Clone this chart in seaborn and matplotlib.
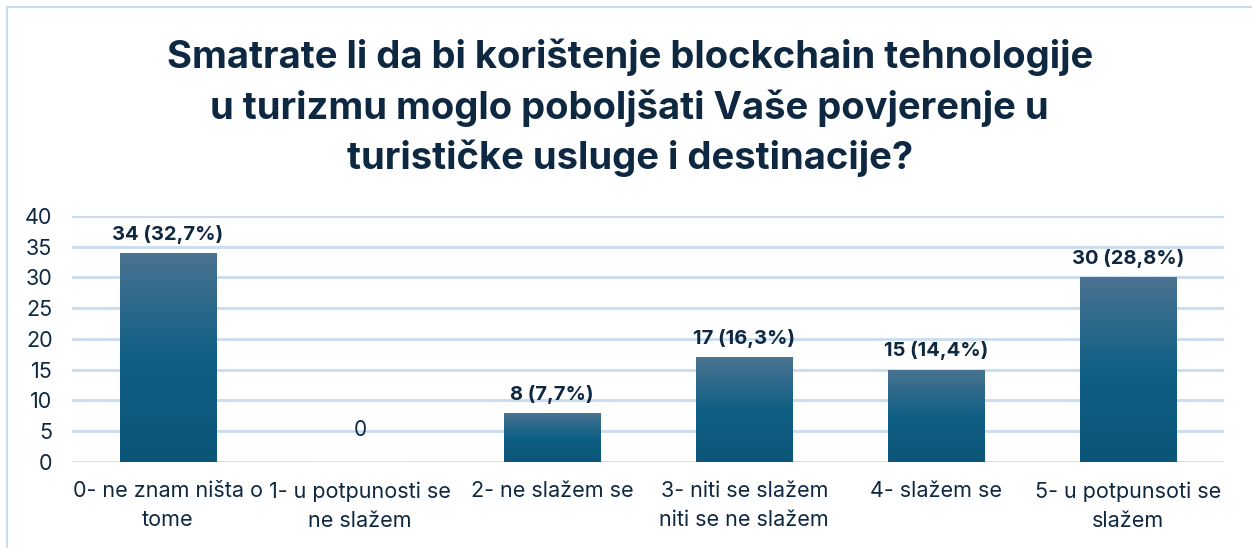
import matplotlib
matplotlib.use("Agg")
import matplotlib.pyplot as plt
import matplotlib.patches as mpatches
from matplotlib.colors import LinearSegmentedColormap
import numpy as np
import seaborn as sns

categories = [
    "0- ne znam ništa o\ntome",
    "1- u potpunosti se\nne slažem",
    "2- ne slažem se",
    "3- niti se slažem\nniti se ne slažem",
    "4- slažem se",
    "5- u potpunsoti se\nslažem",
]
counts = [34, 0, 8, 17, 15, 30]
percents = ["32,7", "0", "7,7", "16,3", "14,4", "28,8"]

title = ("Smatrate li da bi korištenje blockchain tehnologije\n"
         "u turizmu moglo poboljšati Vaše povjerenje u\n"
         "turističke usluge i destinacije?")

navy = "#0E2841"
grid_col = "#C9DCF0"

sns.set_style("white")
plt.rcParams["font.family"] = ["Inter", "DejaVu Sans"]

fig = plt.figure(figsize=(12.52, 5.48), dpi=100)
ax = fig.add_axes([0.0575, 0.157, 0.9205, 0.449])

sns.barplot(x=categories, y=counts, width=0.5, color="#0F5F82", ax=ax, zorder=3)

# gradient fill on each bar
cmap = LinearSegmentedColormap.from_list(
    "bar", [(0, "#0B5577"), (0.5, "#0F6084"), (1, "#4B7391")])
grad = np.linspace(0, 1, 256).reshape(-1, 1)
for p in list(ax.patches):
    x0, y0 = p.get_x(), p.get_y()
    w, h = p.get_width(), p.get_height()
    if h <= 0:
        continue
    p.set_facecolor("none")
    p.set_edgecolor("none")
    im = ax.imshow(grad, cmap=cmap, origin="lower", aspect="auto",
                   extent=[x0, x0 + w, y0, y0 + h], zorder=3)
    im.set_clip_path(p)

ax.set_xlim(-0.5, len(categories) - 0.5)
ax.set_ylim(0, 40)
ax.set_yticks(range(0, 41, 5))
ax.yaxis.grid(True, color=grid_col, linewidth=2, zorder=0)
ax.set_axisbelow(True)
for s in ax.spines.values():
    s.set_visible(False)
ax.tick_params(axis="both", length=0, colors=navy, labelsize=15.5)
ax.tick_params(axis="x", pad=14)
ax.tick_params(axis="y", pad=14)
for lbl in ax.get_xticklabels():
    lbl.set_linespacing(1.55)
ax.set_xlabel("")
ax.set_ylabel("")

for i, (c, pc) in enumerate(zip(counts, percents)):
    if c == 0:
        ax.text(i, c + 3.5, "0", ha="center", va="bottom",
                fontsize=15, color=navy)
    else:
        ax.text(i, c + 1.5, f"{c} ({pc}%)", ha="center", va="bottom",
                fontsize=14.5, fontweight="bold", color=navy)

fig.text(0.503, 0.93, title, ha="center", va="top", fontsize=27.5,
         fontweight="bold", color=navy, linespacing=1.45)

# chart frame
fig.patches.append(mpatches.Rectangle(
    (7 / 1252, -0.01), 1.1, 1 - 7 / 548 + 0.01, transform=fig.transFigure,
    fill=False, edgecolor=grid_col, linewidth=1.5))

fig.savefig("out.png", dpi=100)
